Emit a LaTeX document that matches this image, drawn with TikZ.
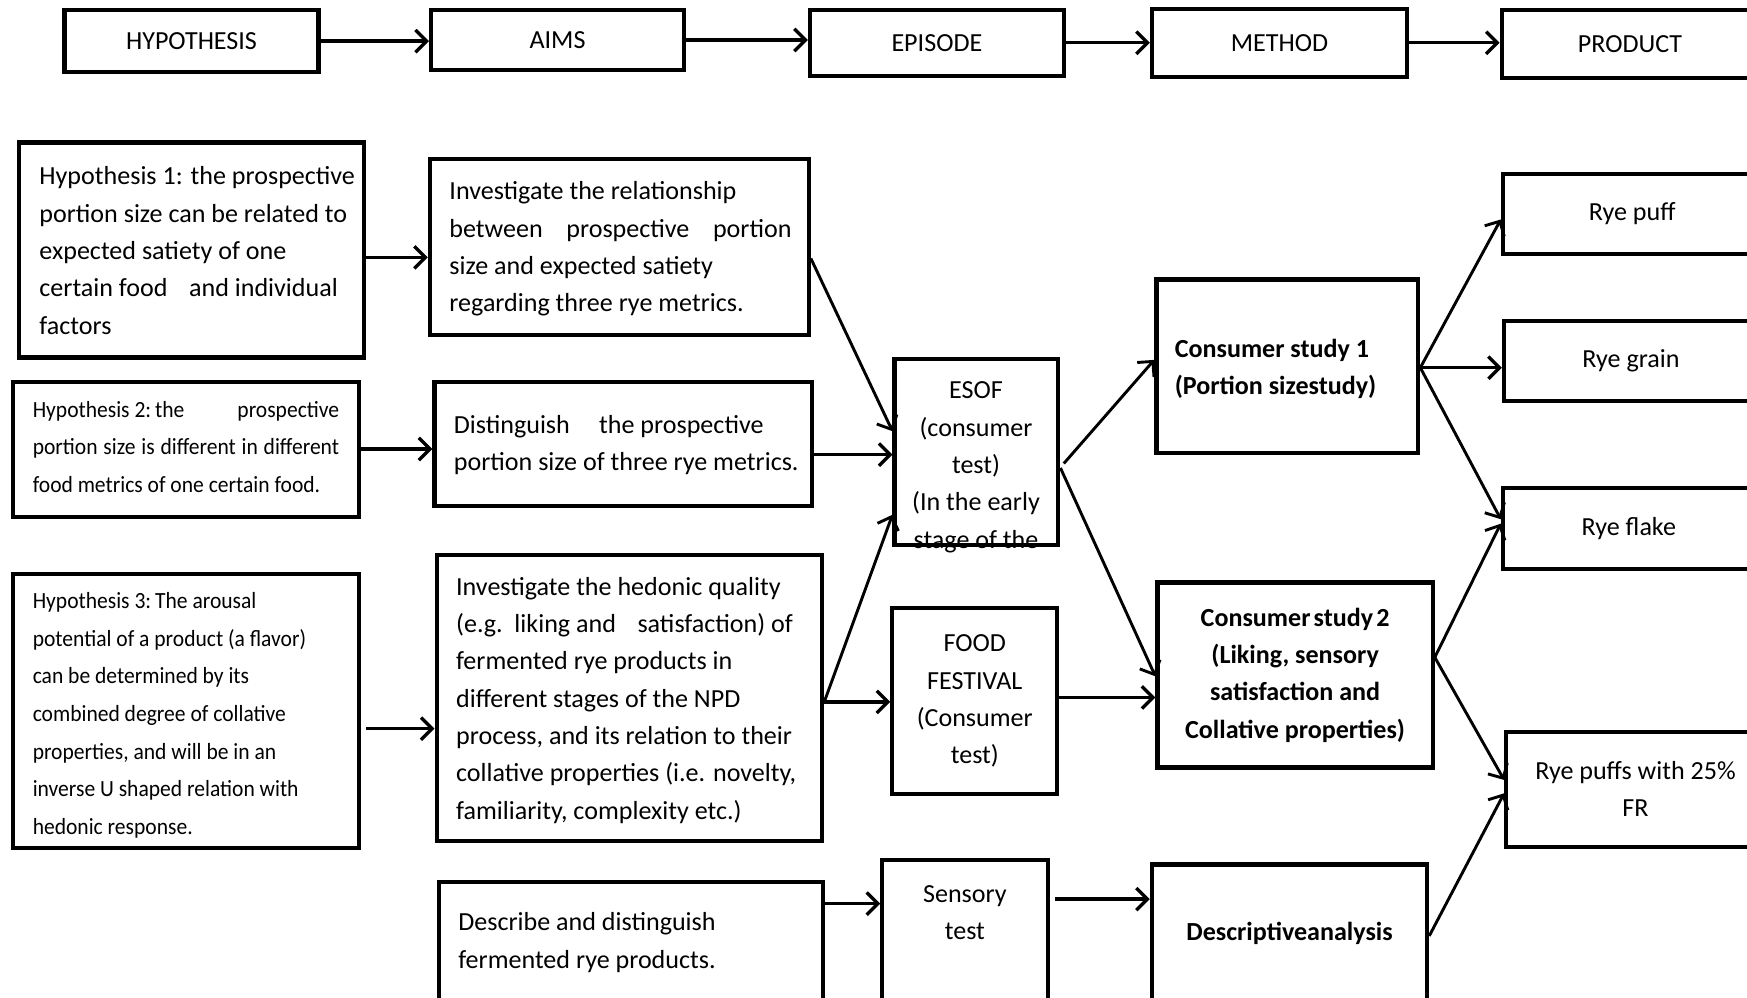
\documentclass[tikz,border=0pt]{standalone}
\usepackage{fontspec}
\setmainfont{Carlito}
\newfontfamily\condfont{Carlito}[FakeStretch=0.93]
\usetikzlibrary{arrows.meta}
\newcommand\mainsz{\fontsize{11.7}{16.75}\selectfont}
\newcommand\condsz{\condfont\fontsize{10.4}{16.85}\selectfont}
\tikzset{
  box/.style={draw, line width=1.9pt, inner sep=0pt, anchor=north west, align=center, font=\mainsz},
  wh/.style 2 args={minimum width=#1*0.5pt, minimum height=#2*0.5pt},
  txt/.style={inner sep=0pt, align=left, anchor=west, font=\mainsz},
  ctxt/.style={inner sep=0pt, align=center, anchor=center, font=\mainsz},
  arr/.style={line width=1.5pt, -{Straight Barb[length=5pt,width=10pt]}},
  darr/.style={line width=1.3pt, -{Straight Barb[length=5pt,width=10pt]}}
}
\begin{document}
\begin{tikzpicture}[x=0.5pt,y=-0.5pt]
\useasboundingbox (0,0) rectangle (1568,895);
\clip (0,0) rectangle (1568,895);
\fill[white] (0,0) rectangle (1568,895);

% top row
\node[box, wh={228}{56}] (hyp) at (56,7) {HYPOTHESIS};
\node[box, wh={227}{54}] (aims) at (385,7) {AIMS};
\node[box, wh={228}{59}] (epi) at (725,7) {EPISODE};
\node[box, wh={229}{61}] (meth) at (1032,6) {METHOD};
\node[box, wh={230}{61}] (prod) at (1346,7) {PRODUCT};

% hypotheses
\node[box, wh={310}{193}] (h1) at (15,126) {};
\node[txt] (h1t) at (35,225) {Hypothesis 1: the prospective\\portion size can be related to\\expected satiety of one\\certain food\hspace{0.6em} and individual\\factors};
\node[box, wh={310}{121}] (h2) at (10,341) {};
\node[txt, font=\condsz] (h2t) at (29,401) {\makebox[137.5pt][l]{Hypothesis 2:\,the\hfill prospective}\\\makebox[137.5pt][s]{portion size is different in different}\\food metrics of one certain food.};
\node[box, wh={310}{246}] (h3) at (10,513) {};
\node[txt, font=\condsz] (h3t) at (29,642) {Hypothesis 3:\,The arousal\\potential of a product (a flavor)\\can be determined by its\\combined degree of collative\\properties, and will be in an\\inverse U shaped relation with\\hedonic response.};

% aims
\node[box, wh={340}{158}] (a1) at (384,141) {};
\node[txt] (a1t) at (403,223.5) {Investigate the relationship\\\makebox[153.5pt][s]{between prospective portion}\\size and expected satiety\\regarding three rye metrics.};
\node[box, wh={339}{111}] (a2) at (388,341) {};
\node[txt] (a2t) at (407,399.5) {Distinguish\hspace{0.9em} the prospective\\portion size of three rye metrics.};
\node[box, wh={346}{257}] (a3) at (390,496) {};
\node[txt] (a3t) at (409,628.5) {Investigate the hedonic quality\\(e.g.\ \ liking and\hspace{0.6em} satisfaction) of\\fermented rye products in\\different stages of the NPD\\process, and its relation to their\\collative properties (i.e. novelty,\\familiarity, complexity etc.)};
\node[box, wh={345}{115}] (a4) at (392,790) {};
\node[txt] (a4t) at (411,846) {Describe and distinguish\\fermented rye products.};

% episodes
\node[ctxt] (esoft) at (876,419.5) {ESOF\\(consumer\\test)\\(In the early\\stage of the};
\node[box, wh={147}{167}] (esof) at (801,320) {};
\node[box, wh={148}{167}] (food) at (799,544) {FOOD\\FESTIVAL\\(Consumer\\test)};
\node[box, wh={149}{135}] (sens) at (790,770) {};
\node[ctxt] (senst) at (866,819) {Sensory\\test};

% methods
\node[box, wh={235}{156}] (cs1) at (1036,249) {};
\node[txt, font=\mainsz\bfseries] (cs1t) at (1054,331) {Consumer study 1\\(Portion sizestudy)};
\node[box, wh={247}{166}, font=\mainsz\bfseries] (cs2) at (1037,521) {Consumer\hspace{0.12em}study\hspace{0.12em}2\\(Liking, sensory\\satisfaction and\\Collative properties)};
\node[box, wh={247}{124}, font=\mainsz\bfseries] (desc) at (1032,774) {Descriptiveanalysis};

% products
\node[box, wh={232}{72}] (puff) at (1347,154) {Rye puff};
\node[box, wh={228}{72}] (grain) at (1348,286) {Rye grain};
\node[box, wh={226}{73}] (flake) at (1347,436) {Rye flake};
\node[box, wh={232}{103}] (p25) at (1350,655) {Rye puffs with 25\%\\FR};

% top arrows
\draw[arr] (hyp.east) -- (hyp.east -| aims.west);
\draw[arr] (aims.east) -- (aims.east -| epi.west);
\draw[arr] (epi.east) -- (epi.east -| meth.west);
\draw[arr] (meth.east) -- (meth.east -| prod.west);

% hypothesis -> aims
\draw[arr] (h1.east |- 0,231) -- (a1.west |- 0,231);
\draw[arr] (h2.east |- 0,403) -- (a2.west |- 0,403);
\draw[arr] ([xshift=2.5pt]h3.east |- 0,654) -- (a3.west |- 0,654);

% aims -> episodes
\draw[darr] (a1.east |- 0,232) -- (esof.west |- 0,387);
\draw[arr] (a2.east |- 0,408) -- (esof.west |- 0,408);
\draw[darr] (a3.east |- 0,630) -- (esof.west |- 0,462);
\draw[arr] (a3.east |- 0,630) -- (food.west |- 0,630);
\draw[arr] (a4.east |- 0,811) -- (sens.west |- 0,811);

% episodes -> methods
\draw[darr] ([xshift=1.5pt]esof.east |- 0,416) -- (cs1.west |- 0,323);
\draw[darr] (esof.east |- 0,420) -- (cs2.west |- 0,607);
\draw[arr] (food.east |- 0,626) -- (cs2.west |- 0,626);
\draw[arr] ([xshift=2pt]sens.east |- 0,807) -- (desc.west |- 0,807);

% methods -> products
\draw[darr] (cs1.east |- 0,330) -- (puff.west |- 0,197);
\draw[arr] (cs1.east |- 0,330) -- (grain.west |- 0,330);
\draw[darr] (cs1.east |- 0,330) -- (flake.west |- 0,466);
\draw[darr] (cs2.east |- 0,590) -- (flake.west |- 0,470);
\draw[darr] (cs2.east |- 0,590) -- (p25.west |- 0,700);
\draw[darr] (desc.east |- 0,840) -- (p25.west |- 0,712);
\end{tikzpicture}
\end{document}
